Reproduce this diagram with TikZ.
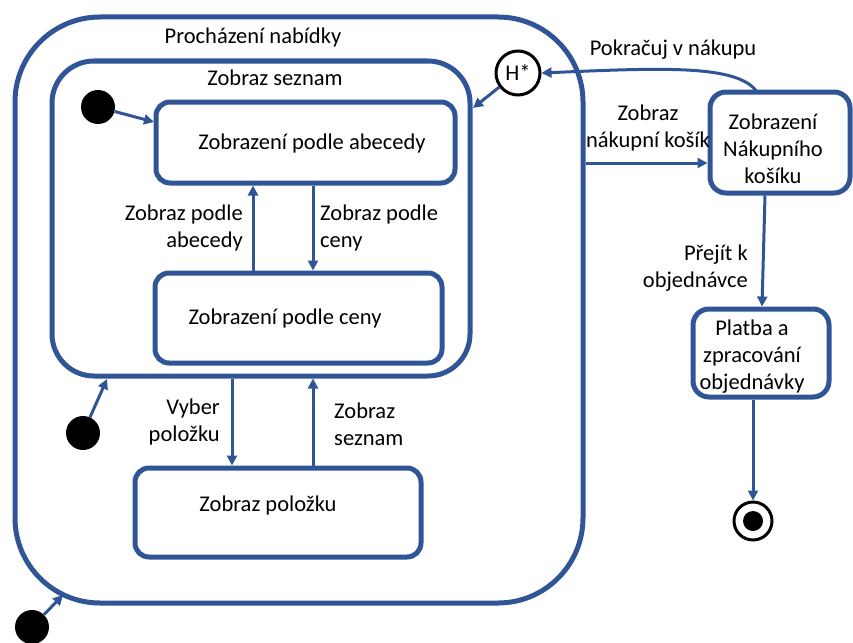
\documentclass[tikz,border=0pt]{standalone}
\usepackage{fontspec}
\setmainfont{Carlito}
\usetikzlibrary{arrows.meta}
\definecolor{umlblue}{HTML}{2F5597}
\begin{document}
\begin{tikzpicture}[x=1pt,y=-1pt,
  every node/.style={font=\fontsize{22.5}{27}\selectfont},
  statebox/.style={draw=umlblue, line width=5pt, rectangle, inner sep=0pt, align=center},
  lbl/.style={inner sep=0pt, align=center},
  trans/.style={draw=umlblue, line width=3pt, -{Triangle[length=10pt,width=10pt]}},
  startdot/.style={circle, fill=black, minimum size=34pt, inner sep=0pt},
  histnode/.style={circle, draw=black, line width=3pt, minimum size=44pt, inner sep=0pt},
  endring/.style={circle, draw=black, line width=3pt, minimum size=38pt, inner sep=0pt},
  enddot/.style={circle, fill=black, minimum size=20pt, inner sep=0pt}
]
\useasboundingbox (0,0) rectangle (853,642);

% composite states
\node[statebox, rounded corners=85pt, minimum width=568pt, minimum height=586pt] (browse) at (299,310) {};
\node[lbl] (browseT) at (253,38) {Procházení nabídky};
\node[statebox, rounded corners=42pt, minimum width=418pt, minimum height=315pt] (list) at (261,218.5) {};
\node[lbl] (listT) at (275,78) {Zobraz seznam};

% simple states (names set as centre labels, nudged inside the box)
\node[statebox, rounded corners=14pt, minimum width=299pt, minimum height=81pt,
  label={[lbl, xshift=6.5pt, yshift=-1.5pt]center:Zobrazení podle abecedy}] (abc) at (305.5,142.5) {};
\node[statebox, rounded corners=14pt, minimum width=287pt, minimum height=90pt,
  label={[lbl, xshift=-13.5pt]center:Zobrazení podle ceny}] (price) at (298.5,318) {};
\node[statebox, rounded corners=14pt, minimum width=286pt, minimum height=89pt,
  label={[lbl, xshift=-10pt, yshift=7.5pt]center:Zobraz položku}] (item) at (278,512.5) {};
\node[statebox, rounded corners=16pt, minimum width=140pt, minimum height=101pt,
  label={[lbl, xshift=-7pt, yshift=-6pt]center:{Zobrazení\\Nákupního\\košíku}}] (cart) at (780,142.5) {};
\node[statebox, rounded corners=16pt, minimum width=136pt, minimum height=88pt,
  label={[lbl, xshift=-9pt, yshift=-4pt]center:{Platba a\\zpracování\\objednávky}}] (pay) at (761,353) {};

% pseudo states
\node[startdot] (init1) at (98,107) {};
\node[startdot] (init2) at (83,433) {};
\node[startdot] (init3) at (32,627) {};
\node[histnode] (hist) at (518,73) {H*};
\node[endring] (final) at (753,521) {};
\node[enddot] (finalc) at (753,521) {};

% attachment points
\coordinate (abcIn) at (154,122);
\coordinate (listIn) at (107,379);
\coordinate (browseIn) at (63,595);
\coordinate (histOut) at (473,108);
\coordinate (xUp) at (253,0);
\coordinate (xDown) at (313,0);
\coordinate (xSel) at (232,0);
\coordinate (xBack) at (313,0);
\coordinate (yCart) at (0,163);
\coordinate (cartTop) at (757,92);
\coordinate (xOrd1) at (765,0);
\coordinate (xOrd2) at (762,0);

% transitions
\draw[trans] (init1) -- (abcIn);
\draw[trans] (init2) -- (listIn);
\draw[trans] (init3) -- (browseIn);
\draw[trans] (price.north -| xUp) -- (abc.south -| xUp);
\draw[trans] (abc.south -| xDown) -- (price.north -| xDown);
\draw[trans] (list.south -| xSel) -- (item.north -| xSel);
\draw[trans] (item.north -| xBack) -- (list.south -| xBack);
\draw[trans] (hist.217) -- (histOut);
\draw[trans] (browse.east |- yCart) -- (cart.west |- yCart);
\draw[trans] (cartTop) .. controls (738,64) and (660,68) .. (hist.east);
\draw[trans] (cart.south -| xOrd1) -- (pay.north -| xOrd2);
\draw[trans] (pay.south -| final) -- (final.north);

% transition labels
\node[lbl, align=right, anchor=east] (lAbc) at (243,228) {Zobraz podle\\abecedy};
\node[lbl, align=left, anchor=west] (lPrice) at (320,228) {Zobraz podle\\ceny};
\node[lbl, align=right, anchor=east] (lSel) at (220,422) {Vyber\\položku};
\node[lbl, align=left, anchor=west] (lBack) at (334,424) {Zobraz\\seznam};
\node[lbl] (lCart) at (648,128) {Zobraz\\nákupní košík};
\node[lbl] (lCont) at (673,50) {Pokračuj v nákupu};
\node[lbl, align=right, anchor=east] (lOrder) at (748,268) {Přejít k\\objednávce};
\end{tikzpicture}
\end{document}
